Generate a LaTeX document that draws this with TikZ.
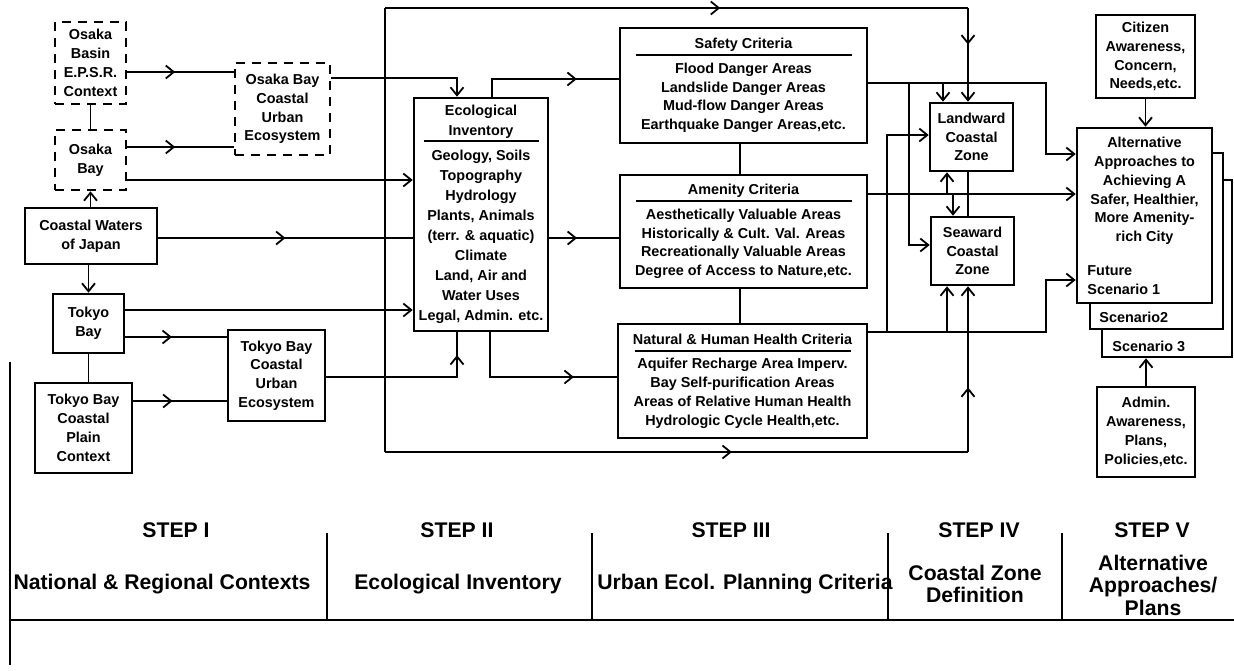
\documentclass[tikz,border=0pt]{standalone}
\usepackage{fontspec}
\setmainfont{Liberation Sans}
\usetikzlibrary{arrows.meta,decorations.markings,positioning}
\newcommand{\boxfont}{\fontsize{7.2}{9.4}\selectfont\bfseries}
\newcommand{\ecofont}{\fontsize{7.2}{10}\selectfont\bfseries}
\newcommand{\stepfont}{\fontsize{10.6}{11.25}\selectfont\bfseries}
\tikzset{
  plan box/.style={draw,line width=1.3pt,inner sep=0pt,align=center,font=\boxfont},
  dash box/.style={plan box,dash pattern=on 4.5pt off 3.5pt},
  page box/.style={plan box,fill=white},
  link/.style={line width=0.9pt},
  arrow link/.style={link,-{Straight Barb[length=4pt,width=6.5pt]}},
  mid arrow/.style={postaction=decorate,decoration={markings,
      mark=at position #1 with {\arrow{Straight Barb[length=4pt,width=6.5pt]}}}},
  mid arrow/.default=0.5,
  frame line/.style={line width=0.9pt},
  step text/.style={font=\stepfont,align=center},
}

\begin{document}
\begin{tikzpicture}[x=0.5pt,y=-0.5pt]
  \useasboundingbox (0,0) rectangle (1234,670);
  % step I
  \node[dash box,minimum width=35.5pt,minimum height=41pt] (osbasin) at (90.5,63) {Osaka\\Basin\\E.P.S.R.\\Context};
  \node[dash box,minimum width=35.5pt,minimum height=30pt] (osbay) at (90.5,160) {Osaka\\Bay};
  \node[dash box,minimum width=47.5pt,minimum height=46pt] (oscue) at (282.5,109) {Osaka Bay\\Coastal\\Urban\\Ecosystem};
  \node[plan box,minimum width=66pt,minimum height=28pt] (cwj) at (91,236) {Coastal Waters\\of Japan};
  \node[plan box,minimum width=35.5pt,minimum height=29.5pt] (tokbay) at (88.5,323.5) {Tokyo\\Bay};
  \node[plan box,minimum width=48.5pt,minimum height=45pt] (tokcpc) at (83.5,428) {Tokyo Bay\\Coastal\\Plain\\Context};
  \node[plan box,minimum width=48.5pt,minimum height=45.5pt] (tokcue) at (276.5,375.5) {Tokyo Bay\\Coastal\\Urban\\Ecosystem};
  % step II
  \node[plan box,font=\ecofont,minimum width=67pt,minimum height=116.5pt] (ecoinv) at (481,214.5)
    {Ecological\\Inventory\\[-6.75pt]\rule{57.5pt}{1pt}\\[-0.75pt]Geology, Soils\\Topography\\Hydrology\\Plants, Animals\\(terr. \& aquatic)\\Climate\\Land, Air and\\Water Uses\\Legal, Admin. etc.};
  % step III
  \node[plan box,minimum width=123.5pt,minimum height=57.5pt] (safety) at (743.5,85.5)
    {Safety Criteria\\[-5.75pt]\rule{108pt}{1pt}\\[-0.75pt]Flood Danger Areas\\Landslide Danger Areas\\Mud-flow Danger Areas\\Earthquake Danger Areas,etc.};
  \node[plan box,minimum width=123.5pt,minimum height=56.5pt] (amenity) at (743.5,231.5)
    {Amenity Criteria\\[-5.75pt]\rule{108pt}{1pt}\\[-0.75pt]Aesthetically Valuable Areas\\Historically \& Cult. Val. Areas\\Recreationally Valuable Areas\\Degree of Access to Nature,etc.};
  \node[plan box,minimum width=124.5pt,minimum height=57pt] (natural) at (742.5,381)
    {Natural \& Human Health Criteria\\[-5.75pt]\rule{108pt}{1pt}\\[-0.75pt]Aquifer Recharge Area Imperv.\\Bay Self-purification Areas\\Areas of Relative Human Health\\Hydrologic Cycle Health,etc.};
  % step IV
  \node[plan box,minimum width=41.5pt,minimum height=34pt] (landward) at (971.5,137) {Landward\\Coastal\\Zone};
  \node[plan box,minimum width=41.5pt,minimum height=34pt] (seaward) at (972.5,251) {Seaward\\Coastal\\Zone};
  % step V
  \node[plan box,minimum width=49.5pt,minimum height=41.5pt] (citizen) at (1145.5,56.5) {Citizen\\Awareness,\\Concern,\\Needs,etc.};
  \node[page box,minimum width=65pt,minimum height=88.5pt] (page3) at (1167,268.5) {};
  \node[page box,minimum width=66.5pt,minimum height=88pt] (page2) at (1156.5,241) {};
  \node[page box,minimum width=67.5pt,minimum height=87.5pt] (alt) at (1144.5,215.5) {};
  \node[font=\boxfont,align=center] (alttext) at (1144.5,191) {Alternative\\Approaches to\\Achieving A\\Safer, Healthier,\\More Amenity-\\rich City};
  \node[font=\boxfont,align=left,anchor=west,inner sep=0pt] (future) at (1087,280) {Future\\Scenario 1};
  \node[font=\boxfont,anchor=west,inner sep=0pt] (scentwo) at (1099,317) {Scenario2};
  \node[font=\boxfont,anchor=west,inner sep=0pt] (scenthree) at (1112,346) {Scenario 3};
  \node[plan box,minimum width=49pt,minimum height=45pt] (admin) at (1146,432) {Admin.\\Awareness,\\Plans,\\Policies,etc.};

  \coordinate (looptop) at (385,8);
  \coordinate (loopbot) at (385,452);
  \coordinate (loopright) at (968,8);
  \coordinate (loopbotright) at (968,452);
  \coordinate (safland) at (943,83);
  \coordinate (safsea) at (909,83);
  \coordinate (amland) at (947,194);
  \coordinate (amsea) at (953,194);
  \coordinate (natland) at (887,332);
  \coordinate (natsea) at (947,332);

  \draw[link] (osbasin) -- (osbay);
  \draw[link,mid arrow=0.45] (osbasin.east |- 0,72) -- (oscue.west |- 0,72);
  \draw[link,mid arrow=0.45] (osbay.east |- 0,147) -- (oscue.west |- 0,147);
  \draw[arrow link] (osbay.east |- 0,180) -- (ecoinv.west |- 0,180);
  \draw[arrow link] (cwj.north -| osbay) -- (osbay.south);
  \draw[arrow link] (cwj.south -| tokbay) -- (tokbay.north);
  \draw[link,mid arrow=0.5] (cwj.east |- 0,238) -- (ecoinv.west |- 0,238);
  \draw[arrow link] (tokbay.east |- 0,310) -- (ecoinv.west |- 0,310);
  \draw[link,mid arrow=0.46] (tokbay.east |- 0,337) -- (tokcue.west |- 0,337);
  \draw[link] (tokbay) -- (tokbay |- tokcpc.north);
  \draw[link,mid arrow=0.42] (tokcpc.east |- 0,401) -- (tokcue.west |- 0,401);
  \draw[arrow link] (oscue.east |- 0,78) -| (ecoinv.north -| 457,0);
  \draw[link,mid arrow=0.87] (tokcue.east |- 0,377) -| (ecoinv.south -| 457,0);

  \draw[link] (loopbot) -- (looptop);
  \draw[link,mid arrow=0.575] (looptop) -- (loopright);
  \draw[arrow link,mid arrow=0.39] (loopright) -- (loopright |- landward.north);
  \draw[link,mid arrow=0.595] (loopbot) -- (loopbotright);
  \draw[arrow link,mid arrow=0.39] (loopbotright) -- (loopbotright |- seaward.south);

  \draw[link,mid arrow=0.71] (ecoinv.north -| 492,0) |- (safety.west |- 0,79);
  \draw[link,mid arrow=0.4] (ecoinv.east |- 0,238) -- (amenity.west |- 0,238);
  \draw[link,mid arrow=0.75] (ecoinv.south -| 490,0) |- (natural.west |- 0,377);
  \draw[link] (safety.south -| 740,0) -- (amenity.north -| 740,0);
  \draw[link] (amenity.south -| 740,0) -- (natural.north -| 740,0);

  \draw[arrow link] (safety.east |- 0,83) -| (1046,154) -- (alt.west |- 0,154);
  \draw[arrow link] (safland) -- (landward.north -| safland);
  \draw[arrow link] (safsea) |- (seaward.west |- 0,245);
  \draw[arrow link] (amenity.east |- 0,194) -- (alt.west |- 0,194);
  \draw[arrow link] (amland) -- (landward.south -| amland);
  \draw[arrow link] (amsea) -- (seaward.north -| amsea);
  \draw[arrow link] (natural.east |- 0,332) -| (1046,280) -- (alt.west |- 0,280);
  \draw[arrow link] (natland) |- (landward.west |- 0,135);
  \draw[arrow link] (natsea) -- (seaward.south -| natsea);
  \draw[link] (landward.south -| 968,0) -- (seaward.north -| 968,0);

  \draw[arrow link] (citizen.south) -- (citizen.south |- alt.north);
  \draw[arrow link] (admin.north) -- (admin.north |- page3.south);

  % steps
  \draw[frame line] (10,362) -- (10,665);
  \draw[frame line] (10,620) -- (1234,620);
  \foreach \x in {327,592,888,1062}
    \draw[frame line] (\x,533) -- (\x,620);
  \node[step text] (stepone) at (176,530) {STEP I};
  \node[step text] (steponetext) at (162,584) {National \& Regional Contexts};
  \node[step text] (steptwo) at (457,530) {STEP II};
  \node[step text] (steptwotext) at (458,584) {Ecological Inventory};
  \node[step text] (stepthree) at (731,530) {STEP III};
  \node[step text] (stepthreetext) at (745,584) {Urban Ecol. Planning Criteria};
  \node[step text] (stepfour) at (979,530) {STEP IV};
  \node[step text] (stepfourtext) at (975,584) {Coastal Zone\\Definition};
  \node[step text] (stepfive) at (1152,530) {STEP V};
  \node[step text] (stepfivetext) at (1153,585) {Alternative\\Approaches/\\Plans};
\end{tikzpicture}
\end{document}
